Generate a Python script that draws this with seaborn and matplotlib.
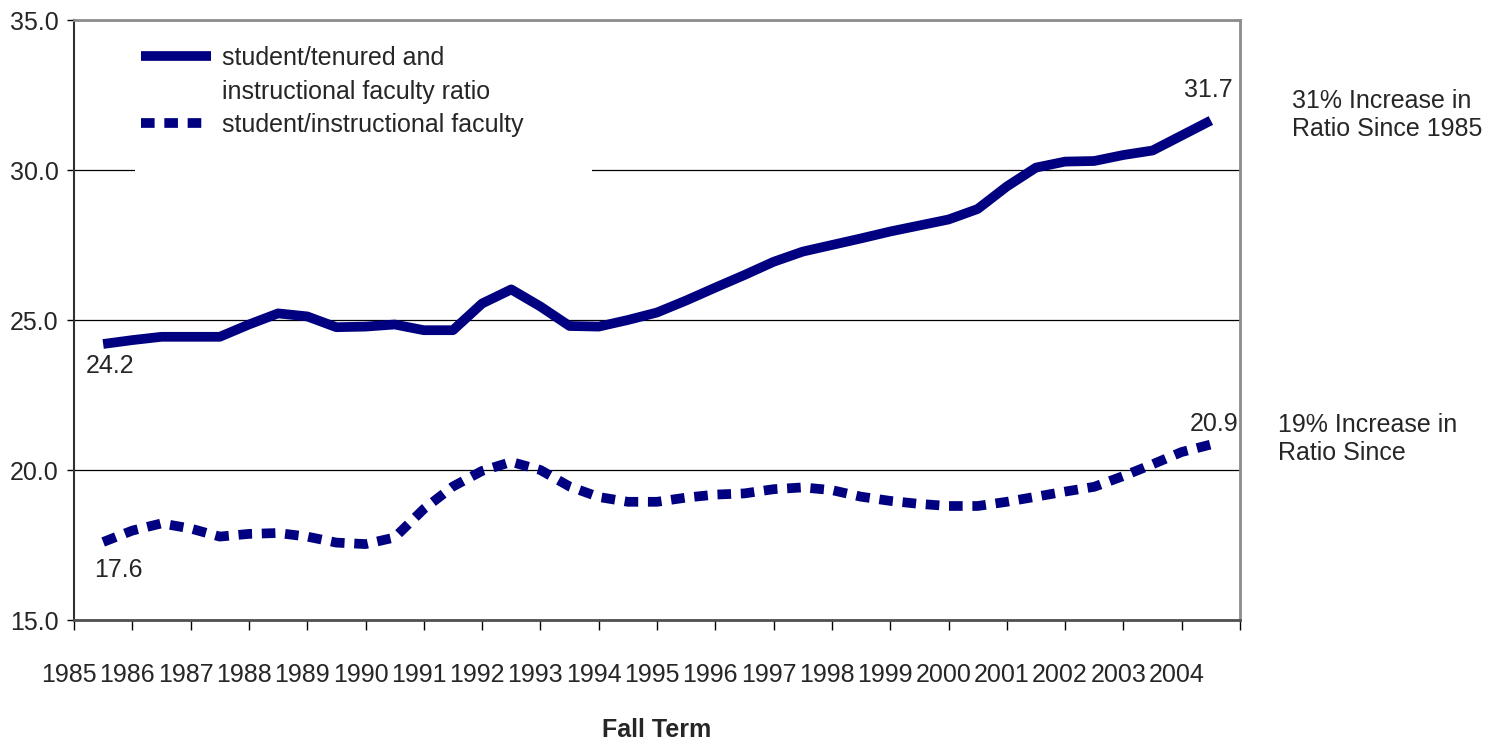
import pandas as pd
import matplotlib
matplotlib.use('Agg')
import matplotlib.pyplot as plt
import matplotlib.transforms as mtransforms
from matplotlib.lines import Line2D
from matplotlib.patches import Rectangle
import seaborn as sns

# Data (half-year steps, fall 1985 .. fall 2004)
years = list(range(1985, 2005))
terms = [1985 + 0.5 * i for i in range(39)]
tenured_ratio = [24.2, 24.33, 24.44, 24.44, 24.44, 24.85, 25.22, 25.12, 24.76, 24.78,
                 24.85, 24.66, 24.66, 25.55, 26.02, 25.45, 24.8, 24.78, 25.0, 25.25,
                 25.65, 26.08, 26.5, 26.94, 27.28, 27.5, 27.72, 27.95, 28.15, 28.35,
                 28.7, 29.45, 30.08, 30.28, 30.3, 30.5, 30.65, 31.15, 31.65]
instructional_ratio = [17.6, 17.98, 18.22, 18.05, 17.78, 17.87, 17.9, 17.78, 17.58, 17.53,
                       17.75, 18.7, 19.45, 19.97, 20.27, 20.0, 19.45, 19.1, 18.94, 18.94,
                       19.08, 19.18, 19.22, 19.36, 19.42, 19.33, 19.11, 18.97, 18.87, 18.8,
                       18.8, 18.94, 19.11, 19.28, 19.44, 19.8, 20.19, 20.6, 20.85]
series_names = ['student/tenured and instructional faculty ratio',
                'student/instructional faculty']

df = pd.DataFrame({
    'term': terms * 2,
    'ratio': tenured_ratio + instructional_ratio,
    'series': [series_names[0]] * len(terms) + [series_names[1]] * len(terms),
})

sns.set_style('white')
plt.rcParams['font.family'] = ['Liberation Sans', 'DejaVu Sans']
navy = '#000080'
fs = 18

fig = plt.figure(figsize=(14.91, 7.44), dpi=100)
ax = fig.add_axes([74 / 1491, 1 - 620 / 744, 1166 / 1491, 600 / 744])

sns.lineplot(data=df, x='term', y='ratio', hue='series', style='series',
             palette=[navy, navy], dashes={series_names[0]: '', series_names[1]: (1.4, 1.0)},
             linewidth=7, legend=False, ax=ax)
for ln in ax.get_lines():
    ln.set_solid_capstyle('butt')
    ln.set_dash_capstyle('butt')
    ln.set_solid_joinstyle('round')

ax.set_xlim(1984.5, 2004.5)
ax.set_ylim(15, 35)
ax.set_yticks([15, 20, 25, 30, 35])
ax.set_yticklabels(['15.0', '20.0', '25.0', '30.0', '35.0'], fontsize=fs)
ax.set_xticks([y - 0.5 for y in years] + [2004.5])
ax.set_xticklabels([str(y) for y in years] + [''], fontsize=fs)
ax.tick_params(axis='x', direction='out', length=7, width=1, color='black', pad=24, bottom=True)
ax.tick_params(axis='y', direction='out', length=5, width=1, color='black', pad=6, left=True)
shift = mtransforms.ScaledTranslation(-5 / 100, 0, fig.dpi_scale_trans)
for lab in ax.get_xticklabels():
    lab.set_transform(lab.get_transform() + shift)

ax.set_axisbelow(True)
ax.yaxis.grid(True, color='black', linewidth=0.9)
ax.xaxis.grid(False)
for side in ['top', 'right']:
    ax.spines[side].set_color('#8c8c8c')
    ax.spines[side].set_linewidth(2)
ax.spines['left'].set_color('#303030')
ax.spines['left'].set_linewidth(1.5)
ax.spines['bottom'].set_color('#505050')
ax.spines['bottom'].set_linewidth(2)

ax.set_xlabel('Fall Term', fontsize=fs, fontweight='bold', labelpad=22)
ax.set_ylabel('')

# white legend area that hides the gridline
ax.add_patch(Rectangle((61 / 1166, 442 / 600), 457 / 1166, 150 / 600,
                       transform=ax.transAxes, facecolor='white', edgecolor='none', zorder=1))
lines = ax.get_lines()
blank = Line2D([], [], linestyle='none')
ax.legend([lines[0], blank, lines[1]],
          ['student/tenured and', 'instructional faculty ratio', 'student/instructional faculty'],
          loc='upper left', bbox_to_anchor=(67 / 1166, 574 / 600), frameon=False,
          fontsize=fs, handlelength=2.8, handletextpad=0.45, labelspacing=0.38,
          borderpad=0, borderaxespad=0)

# data labels
ax.annotate('24.2', xy=(terms[0], tenured_ratio[0]), xytext=(5, -16), textcoords='offset points',
            ha='center', va='center', fontsize=fs)
ax.annotate('17.6', xy=(terms[0], instructional_ratio[0]), xytext=(11, -20), textcoords='offset points',
            ha='center', va='center', fontsize=fs)
ax.annotate('31.7', xy=(terms[-1], tenured_ratio[-1]), xytext=(-2, 22), textcoords='offset points',
            ha='center', va='center', fontsize=fs)
ax.annotate('20.9', xy=(terms[-1], instructional_ratio[-1]), xytext=(2, 15), textcoords='offset points',
            ha='center', va='center', fontsize=fs, annotation_clip=False)

fig.text(1292 / 1491, 1 - 115 / 744, '31% Increase in\nRatio Since 1985', fontsize=fs,
         ha='left', va='center', linespacing=1.25)
fig.text(1278 / 1491, 1 - 439 / 744, '19% Increase in\nRatio Since', fontsize=fs,
         ha='left', va='center', linespacing=1.25)

fig.savefig('out.png', dpi=100)
